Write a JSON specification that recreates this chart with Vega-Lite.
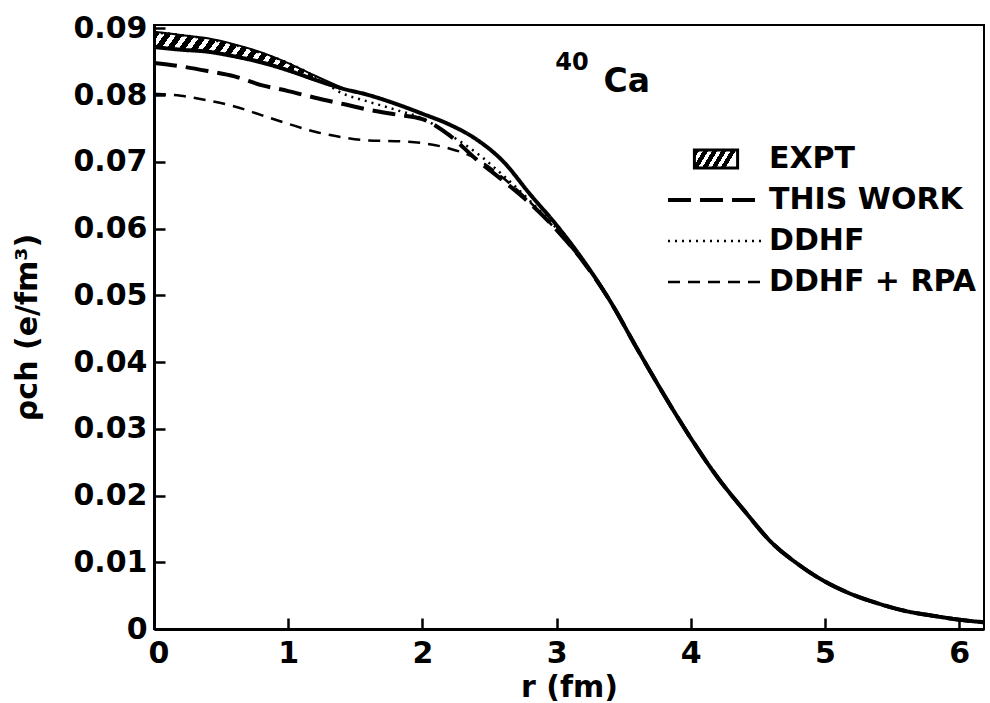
{
  "$schema": "https://vega.github.io/schema/vega-lite/v6.json",
  "width": 830,
  "height": 604,
  "autosize": {"type": "none"},
  "padding": {"left": 154, "top": 25, "right": 6, "bottom": 74},
  "background": "white",
  "config": {
    "view": {"stroke": "black", "strokeWidth": 2},
    "font": "DejaVu Sans",
    "axis": {
      "grid": false,
      "zindex": 1,
      "ticks": true,
      "domainColor": "black",
      "domainWidth": 3,
      "tickColor": "black",
      "tickWidth": 2.5,
      "tickSize": -11,
      "labelFont": "DejaVu Sans",
      "labelFontWeight": "bold",
      "labelFontSize": 30,
      "labelColor": "black",
      "titleFont": "DejaVu Sans",
      "titleFontWeight": "bold",
      "titleFontSize": 30,
      "titleColor": "black"
    }
  },
  "datasets": {
    "band": [
      {"r": 0.0, "lo": 0.0872, "hi": 0.0895},
      {"r": 0.2, "lo": 0.0868, "hi": 0.0890},
      {"r": 0.4, "lo": 0.0865, "hi": 0.0885},
      {"r": 0.6, "lo": 0.0858, "hi": 0.0876},
      {"r": 0.8, "lo": 0.0849, "hi": 0.0864},
      {"r": 1.0, "lo": 0.0837, "hi": 0.0848},
      {"r": 1.2, "lo": 0.0822, "hi": 0.0829},
      {"r": 1.4, "lo": 0.0809, "hi": 0.0811}
    ],
    "label": [{"name": "Ca"}],
    "curves": [
      {"series": "EXPT", "r": 0.0, "rho": 0.0872},
      {"series": "EXPT", "r": 0.2, "rho": 0.0868},
      {"series": "EXPT", "r": 0.4, "rho": 0.0865},
      {"series": "EXPT", "r": 0.6, "rho": 0.0858},
      {"series": "EXPT", "r": 0.8, "rho": 0.0849},
      {"series": "EXPT", "r": 1.0, "rho": 0.0837},
      {"series": "EXPT", "r": 1.2, "rho": 0.0823},
      {"series": "EXPT", "r": 1.4, "rho": 0.0810},
      {"series": "EXPT", "r": 1.6, "rho": 0.0800},
      {"series": "EXPT", "r": 1.8, "rho": 0.0787},
      {"series": "EXPT", "r": 2.0, "rho": 0.0772},
      {"series": "EXPT", "r": 2.2, "rho": 0.0756},
      {"series": "EXPT", "r": 2.4, "rho": 0.0734},
      {"series": "EXPT", "r": 2.6, "rho": 0.0701},
      {"series": "EXPT", "r": 2.8, "rho": 0.0652},
      {"series": "EXPT", "r": 3.0, "rho": 0.0605},
      {"series": "EXPT", "r": 3.2, "rho": 0.0552},
      {"series": "EXPT", "r": 3.4, "rho": 0.0491},
      {"series": "EXPT", "r": 3.6, "rho": 0.0420},
      {"series": "EXPT", "r": 3.8, "rho": 0.0351},
      {"series": "EXPT", "r": 4.0, "rho": 0.0286},
      {"series": "EXPT", "r": 4.2, "rho": 0.0227},
      {"series": "EXPT", "r": 4.4, "rho": 0.0177},
      {"series": "EXPT", "r": 4.6, "rho": 0.0130},
      {"series": "EXPT", "r": 4.8, "rho": 0.0097},
      {"series": "EXPT", "r": 5.0, "rho": 0.0071},
      {"series": "EXPT", "r": 5.2, "rho": 0.0052},
      {"series": "EXPT", "r": 5.4, "rho": 0.0038},
      {"series": "EXPT", "r": 5.6, "rho": 0.0027},
      {"series": "EXPT", "r": 5.8, "rho": 0.0020},
      {"series": "EXPT", "r": 6.0, "rho": 0.0014},
      {"series": "EXPT", "r": 6.185, "rho": 0.0010},

      {"series": "THIS WORK", "r": 0.0, "rho": 0.0848},
      {"series": "THIS WORK", "r": 0.2, "rho": 0.0843},
      {"series": "THIS WORK", "r": 0.4, "rho": 0.0836},
      {"series": "THIS WORK", "r": 0.6, "rho": 0.0828},
      {"series": "THIS WORK", "r": 0.8, "rho": 0.0815},
      {"series": "THIS WORK", "r": 1.0, "rho": 0.0806},
      {"series": "THIS WORK", "r": 1.2, "rho": 0.0796},
      {"series": "THIS WORK", "r": 1.4, "rho": 0.0787},
      {"series": "THIS WORK", "r": 1.6, "rho": 0.0778},
      {"series": "THIS WORK", "r": 1.8, "rho": 0.0771},
      {"series": "THIS WORK", "r": 2.0, "rho": 0.0764},
      {"series": "THIS WORK", "r": 2.2, "rho": 0.0740},
      {"series": "THIS WORK", "r": 2.4, "rho": 0.0704},
      {"series": "THIS WORK", "r": 2.6, "rho": 0.0672},
      {"series": "THIS WORK", "r": 2.8, "rho": 0.0638},
      {"series": "THIS WORK", "r": 3.0, "rho": 0.0598},
      {"series": "THIS WORK", "r": 3.2, "rho": 0.0550},
      {"series": "THIS WORK", "r": 3.4, "rho": 0.0491},
      {"series": "THIS WORK", "r": 3.6, "rho": 0.0420},
      {"series": "THIS WORK", "r": 3.8, "rho": 0.0351},
      {"series": "THIS WORK", "r": 4.0, "rho": 0.0286},
      {"series": "THIS WORK", "r": 4.2, "rho": 0.0227},
      {"series": "THIS WORK", "r": 4.4, "rho": 0.0177},
      {"series": "THIS WORK", "r": 4.6, "rho": 0.0130},
      {"series": "THIS WORK", "r": 4.8, "rho": 0.0097},
      {"series": "THIS WORK", "r": 5.0, "rho": 0.0071},
      {"series": "THIS WORK", "r": 5.2, "rho": 0.0052},
      {"series": "THIS WORK", "r": 5.4, "rho": 0.0038},
      {"series": "THIS WORK", "r": 5.6, "rho": 0.0027},
      {"series": "THIS WORK", "r": 5.8, "rho": 0.0020},
      {"series": "THIS WORK", "r": 6.0, "rho": 0.0014},
      {"series": "THIS WORK", "r": 6.185, "rho": 0.0010},

      {"series": "DDHF", "r": 0.0, "rho": 0.0894},
      {"series": "DDHF", "r": 0.2, "rho": 0.0890},
      {"series": "DDHF", "r": 0.4, "rho": 0.0884},
      {"series": "DDHF", "r": 0.6, "rho": 0.0875},
      {"series": "DDHF", "r": 0.8, "rho": 0.0863},
      {"series": "DDHF", "r": 1.0, "rho": 0.0848},
      {"series": "DDHF", "r": 1.2, "rho": 0.0828},
      {"series": "DDHF", "r": 1.4, "rho": 0.0803},
      {"series": "DDHF", "r": 1.6, "rho": 0.0790},
      {"series": "DDHF", "r": 1.8, "rho": 0.0778},
      {"series": "DDHF", "r": 2.0, "rho": 0.0765},
      {"series": "DDHF", "r": 2.2, "rho": 0.0741},
      {"series": "DDHF", "r": 2.4, "rho": 0.0714},
      {"series": "DDHF", "r": 2.6, "rho": 0.0680},
      {"series": "DDHF", "r": 2.8, "rho": 0.0642},
      {"series": "DDHF", "r": 3.0, "rho": 0.0600},
      {"series": "DDHF", "r": 3.2, "rho": 0.0551},
      {"series": "DDHF", "r": 3.4, "rho": 0.0491},
      {"series": "DDHF", "r": 3.6, "rho": 0.0420},
      {"series": "DDHF", "r": 3.8, "rho": 0.0351},
      {"series": "DDHF", "r": 4.0, "rho": 0.0286},
      {"series": "DDHF", "r": 4.2, "rho": 0.0227},
      {"series": "DDHF", "r": 4.4, "rho": 0.0177},
      {"series": "DDHF", "r": 4.6, "rho": 0.0130},
      {"series": "DDHF", "r": 4.8, "rho": 0.0097},
      {"series": "DDHF", "r": 5.0, "rho": 0.0071},
      {"series": "DDHF", "r": 5.2, "rho": 0.0052},
      {"series": "DDHF", "r": 5.4, "rho": 0.0038},
      {"series": "DDHF", "r": 5.6, "rho": 0.0027},
      {"series": "DDHF", "r": 5.8, "rho": 0.0020},
      {"series": "DDHF", "r": 6.0, "rho": 0.0014},
      {"series": "DDHF", "r": 6.185, "rho": 0.0010},

      {"series": "DDHF + RPA", "r": 0.0, "rho": 0.0802},
      {"series": "DDHF + RPA", "r": 0.2, "rho": 0.0799},
      {"series": "DDHF + RPA", "r": 0.4, "rho": 0.0792},
      {"series": "DDHF + RPA", "r": 0.6, "rho": 0.0783},
      {"series": "DDHF + RPA", "r": 0.8, "rho": 0.0770},
      {"series": "DDHF + RPA", "r": 1.0, "rho": 0.0757},
      {"series": "DDHF + RPA", "r": 1.2, "rho": 0.0745},
      {"series": "DDHF + RPA", "r": 1.4, "rho": 0.0737},
      {"series": "DDHF + RPA", "r": 1.6, "rho": 0.0732},
      {"series": "DDHF + RPA", "r": 1.8, "rho": 0.0731},
      {"series": "DDHF + RPA", "r": 2.0, "rho": 0.0728},
      {"series": "DDHF + RPA", "r": 2.2, "rho": 0.0720},
      {"series": "DDHF + RPA", "r": 2.4, "rho": 0.0705},
      {"series": "DDHF + RPA", "r": 2.6, "rho": 0.0676},
      {"series": "DDHF + RPA", "r": 2.8, "rho": 0.0640},
      {"series": "DDHF + RPA", "r": 3.0, "rho": 0.0597},
      {"series": "DDHF + RPA", "r": 3.2, "rho": 0.0549},
      {"series": "DDHF + RPA", "r": 3.4, "rho": 0.0491},
      {"series": "DDHF + RPA", "r": 3.6, "rho": 0.0420},
      {"series": "DDHF + RPA", "r": 3.8, "rho": 0.0351},
      {"series": "DDHF + RPA", "r": 4.0, "rho": 0.0286},
      {"series": "DDHF + RPA", "r": 4.2, "rho": 0.0227},
      {"series": "DDHF + RPA", "r": 4.4, "rho": 0.0177},
      {"series": "DDHF + RPA", "r": 4.6, "rho": 0.0130},
      {"series": "DDHF + RPA", "r": 4.8, "rho": 0.0097},
      {"series": "DDHF + RPA", "r": 5.0, "rho": 0.0071},
      {"series": "DDHF + RPA", "r": 5.2, "rho": 0.0052},
      {"series": "DDHF + RPA", "r": 5.4, "rho": 0.0038},
      {"series": "DDHF + RPA", "r": 5.6, "rho": 0.0027},
      {"series": "DDHF + RPA", "r": 5.8, "rho": 0.0020},
      {"series": "DDHF + RPA", "r": 6.0, "rho": 0.0014},
      {"series": "DDHF + RPA", "r": 6.185, "rho": 0.0010}
    ]
  },
  "layer": [
    {
      "data": {"name": "band"},
      "mark": {
        "type": "area",
        "interpolate": "monotone",
        "stroke": "black",
        "strokeWidth": 2,
        "fill": {
          "gradient": "linear",
          "x1": 0, "y1": 0, "x2": 1, "y2": 0.22,
          "stops": [
            {"offset": 0, "color": "black"}, {"offset": 0.0344, "color": "black"}, {"offset": 0.0344, "color": "white"}, {"offset": 0.0625, "color": "white"},
            {"offset": 0.0625, "color": "black"}, {"offset": 0.0969, "color": "black"}, {"offset": 0.0969, "color": "white"}, {"offset": 0.125, "color": "white"},
            {"offset": 0.125, "color": "black"}, {"offset": 0.1594, "color": "black"}, {"offset": 0.1594, "color": "white"}, {"offset": 0.1875, "color": "white"},
            {"offset": 0.1875, "color": "black"}, {"offset": 0.2219, "color": "black"}, {"offset": 0.2219, "color": "white"}, {"offset": 0.25, "color": "white"},
            {"offset": 0.25, "color": "black"}, {"offset": 0.2844, "color": "black"}, {"offset": 0.2844, "color": "white"}, {"offset": 0.3125, "color": "white"},
            {"offset": 0.3125, "color": "black"}, {"offset": 0.3469, "color": "black"}, {"offset": 0.3469, "color": "white"}, {"offset": 0.375, "color": "white"},
            {"offset": 0.375, "color": "black"}, {"offset": 0.4094, "color": "black"}, {"offset": 0.4094, "color": "white"}, {"offset": 0.4375, "color": "white"},
            {"offset": 0.4375, "color": "black"}, {"offset": 0.4719, "color": "black"}, {"offset": 0.4719, "color": "white"}, {"offset": 0.5, "color": "white"},
            {"offset": 0.5, "color": "black"}, {"offset": 0.5344, "color": "black"}, {"offset": 0.5344, "color": "white"}, {"offset": 0.5625, "color": "white"},
            {"offset": 0.5625, "color": "black"}, {"offset": 0.5969, "color": "black"}, {"offset": 0.5969, "color": "white"}, {"offset": 0.625, "color": "white"},
            {"offset": 0.625, "color": "black"}, {"offset": 0.6594, "color": "black"}, {"offset": 0.6594, "color": "white"}, {"offset": 0.6875, "color": "white"},
            {"offset": 0.6875, "color": "black"}, {"offset": 0.7219, "color": "black"}, {"offset": 0.7219, "color": "white"}, {"offset": 0.75, "color": "white"},
            {"offset": 0.75, "color": "black"}, {"offset": 0.7844, "color": "black"}, {"offset": 0.7844, "color": "white"}, {"offset": 0.8125, "color": "white"},
            {"offset": 0.8125, "color": "black"}, {"offset": 0.8469, "color": "black"}, {"offset": 0.8469, "color": "white"}, {"offset": 0.875, "color": "white"},
            {"offset": 0.875, "color": "black"}, {"offset": 0.9094, "color": "black"}, {"offset": 0.9094, "color": "white"}, {"offset": 0.9375, "color": "white"},
            {"offset": 0.9375, "color": "black"}, {"offset": 0.9719, "color": "black"}, {"offset": 0.9719, "color": "white"}, {"offset": 1, "color": "white"}
          ]
        }
      },
      "encoding": {
        "x": {"field": "r", "type": "quantitative"},
        "y": {"field": "hi", "type": "quantitative"},
        "y2": {"field": "lo"}
      }
    },
    {
      "data": {"name": "curves"},
      "mark": {"type": "line", "interpolate": "monotone", "color": "black", "strokeCap": "butt"},
      "encoding": {
        "x": {
          "field": "r", "type": "quantitative",
          "scale": {"domain": [0, 6.185], "nice": false, "zero": false},
          "axis": {"values": [0, 1, 2, 3, 4, 5, 6], "format": "d", "title": "r (fm)", "labelPadding": 20, "labelFlushOffset": 6, "titlePadding": 4, "ticks": true, "tickSize": -11, "zindex": 1}
        },
        "y": {
          "field": "rho", "type": "quantitative",
          "scale": {"domain": [0, 0.0905], "nice": false},
          "axis": {
            "values": [0, 0.01, 0.02, 0.03, 0.04, 0.05, 0.06, 0.07, 0.08, 0.09],
            "labelExpr": "datum.value === 0 ? '0' : format(datum.value, '.2f')",
            "title": "ρch (e/fm³)",
            "labelPadding": 18,
            "titlePadding": 30,
            "ticks": true,
            "tickSize": -11,
            "zindex": 1
          }
        },
        "strokeDash": {
          "field": "series", "type": "nominal",
          "scale": {
            "domain": ["EXPT", "THIS WORK", "DDHF", "DDHF + RPA"],
            "range": [[1, 0], [23, 9], [2, 5], [12, 8]]
          },
          "legend": {
            "title": null,
            "orient": "none",
            "legendX": 547,
            "legendY": 119,
            "symbolType": "M-4,0H4",
            "symbolSize": 576,
            "symbolStrokeColor": "black",
            "labelFont": "DejaVu Sans",
            "labelFontSize": 30,
            "labelFontWeight": "bold",
            "labelColor": "black",
            "labelOffset": 38,
            "labelLimit": 400,
            "rowPadding": 11,
            "encode": {
              "symbols": {
                "update": {
                  "shape": {"signal": "datum.value === 'EXPT' ? 'M-1.8,-0.75H1.8V0.75H-1.8Z' : 'M-4,0H4'"},
                  "strokeWidth": {"signal": "datum.value === 'DDHF' || datum.value === 'DDHF + RPA' ? 2.5 : (datum.value === 'EXPT' ? 3 : 4)"},
                  "stroke": {"value": "black"},
                  "fill": {"signal": "datum.value === 'EXPT' ? {gradient: 'linear', x1: 0, y1: 0, x2: 1, y2: 0.25, stops: [{offset: 0, color: 'black'}, {offset: 0.11, color: 'black'}, {offset: 0.11, color: 'white'}, {offset: 0.2, color: 'white'}, {offset: 0.2, color: 'black'}, {offset: 0.31, color: 'black'}, {offset: 0.31, color: 'white'}, {offset: 0.4, color: 'white'}, {offset: 0.4, color: 'black'}, {offset: 0.51, color: 'black'}, {offset: 0.51, color: 'white'}, {offset: 0.6, color: 'white'}, {offset: 0.6, color: 'black'}, {offset: 0.71, color: 'black'}, {offset: 0.71, color: 'white'}, {offset: 0.8, color: 'white'}, {offset: 0.8, color: 'black'}, {offset: 0.91, color: 'black'}, {offset: 0.91, color: 'white'}, {offset: 1, color: 'white'}]} : 'transparent'"}
                }
              }
            }
          }
        },
        "strokeWidth": {
          "condition": {"test": "datum.series === 'DDHF' || datum.series === 'DDHF + RPA'", "value": 2.5},
          "value": 4
        }
      }
    },
    {
      "data": {"name": "label"},
      "mark": {"type": "text", "text": "40", "font": "DejaVu Sans", "fontSize": 24, "fontWeight": "bold", "align": "left", "baseline": "alphabetic", "color": "black"},
      "encoding": {
        "x": {"datum": 2.99, "type": "quantitative"},
        "y": {"datum": 0.0838, "type": "quantitative"}
      }
    },
    {
      "data": {"name": "label"},
      "mark": {"type": "text", "font": "DejaVu Sans", "fontSize": 33, "fontWeight": "bold", "align": "left", "baseline": "alphabetic", "color": "black"},
      "encoding": {
        "text": {"field": "name"},
        "x": {"datum": 3.35, "type": "quantitative"},
        "y": {"datum": 0.0805, "type": "quantitative"}
      }
    }
  ]
}
